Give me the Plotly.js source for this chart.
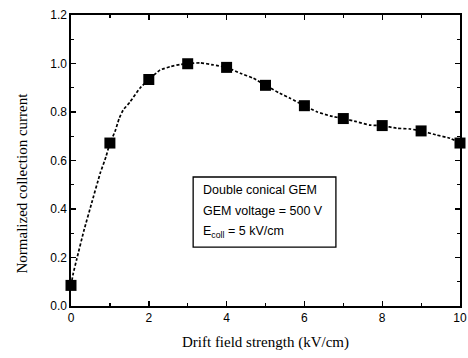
<!DOCTYPE html>
<html>
<head>
<meta charset="utf-8">
<script src="https://cdn.plot.ly/plotly-3.0.1.min.js"></script>
<style>html,body{margin:0;padding:0;background:#fff;}#chart{width:468px;height:358px;}</style>
</head>
<body>
<div id="chart"></div>
<script>
// Measured points (markers)
const driftField = [0, 1, 2, 3, 4, 5, 6, 7, 8, 9, 10];
const collCurrent = [0.085, 0.672, 0.934, 0.999, 0.984, 0.910, 0.826, 0.773, 0.744, 0.722, 0.672];

// Dotted curve
const curveX = [0, 0.06, 0.15, 0.33, 0.53, 0.75, 0.9, 1.0, 1.13, 1.24, 1.34, 1.52, 1.77, 2.0, 2.29, 2.55, 2.8, 3.0, 3.32, 3.66, 4.0, 4.35, 4.69, 5.0, 5.37, 5.63, 6.0, 6.32, 6.66, 7.0, 7.34, 7.69, 8.0, 8.37, 8.72, 9.0, 9.4, 9.74, 10];
const curveY = [0.085, 0.136, 0.195, 0.31, 0.424, 0.547, 0.616, 0.672, 0.719, 0.774, 0.808, 0.842, 0.898, 0.934, 0.973, 0.987, 0.996, 0.999, 1.003, 0.994, 0.984, 0.960, 0.939, 0.910, 0.877, 0.857, 0.826, 0.801, 0.784, 0.773, 0.760, 0.746, 0.744, 0.733, 0.730, 0.722, 0.705, 0.692, 0.672];

const xTitle = "Drift field strength (kV/cm)";
const yTitle = "Normalized collection current";
const boxLines = ["Double conical GEM", "GEM voltage = 500 V", "E<sub>coll</sub> = 5 kV/cm"];

const traces = [
  {
    x: curveX, y: curveY, type: 'scatter', mode: 'lines',
    line: {color: '#000', width: 1.7, dash: '3px,2px', shape: 'spline', smoothing: 0.4},
    hoverinfo: 'skip', cliponaxis: false
  },
  {
    x: driftField, y: collCurrent, type: 'scatter', mode: 'markers',
    marker: {symbol: 'square', size: 11, color: '#000'},
    cliponaxis: false
  }
];

const axisCommon = {
  showgrid: false, zeroline: false, showline: true, linecolor: '#000', linewidth: 1.6,
  mirror: 'allticks', ticks: 'inside', ticklen: 5, tickwidth: 1.4, tickcolor: '#000',
  tickfont: {family: 'Liberation Sans, Arial, sans-serif', size: 12, color: '#000'}
};

const serif = {family: 'Liberation Serif, Times New Roman, serif', size: 15, color: '#000'};
const lineYs = [0.478, 0.392, 0.305];
const annotations = boxLines.map((t, i) => ({
  x: 3.35, y: lineYs[i], xref: 'x', yref: 'y', text: t, showarrow: false,
  xanchor: 'left', yanchor: 'middle',
  font: {family: 'Liberation Sans, Arial, sans-serif', size: 12.5, color: '#000'}
}));
annotations.push({
  x: -0.127, y: 0.423, xref: 'paper', yref: 'paper', text: yTitle, showarrow: false,
  textangle: -90, xanchor: 'center', yanchor: 'middle', font: serif
});

const layout = {
  width: 468, height: 358,
  margin: {l: 71, r: 8, t: 15, b: 52},
  paper_bgcolor: '#fff', plot_bgcolor: '#fff',
  showlegend: false,
  xaxis: Object.assign({}, axisCommon, {
    range: [0, 10], dtick: 2, tick0: 0,
    minor: {ticks: 'inside', ticklen: 3, dtick: 1, tickwidth: 1.2, tickcolor: '#000'},
    title: {text: xTitle, standoff: 12, font: serif}
  }),
  yaxis: Object.assign({}, axisCommon, {
    range: [0, 1.2], dtick: 0.2, tick0: 0, tickformat: '.1f',
    minor: {ticks: 'inside', ticklen: 3, dtick: 0.1, tickwidth: 1.2, tickcolor: '#000'}
  }),
  shapes: [{
    type: 'rect', xref: 'x', yref: 'y', x0: 3.14, x1: 6.81, y0: 0.243, y1: 0.532,
    line: {color: '#000', width: 1.3}, fillcolor: 'rgba(0,0,0,0)'
  }],
  annotations: annotations
};

Plotly.newPlot('chart', traces, layout, {displayModeBar: false, staticPlot: true});
</script>
</body>
</html>
